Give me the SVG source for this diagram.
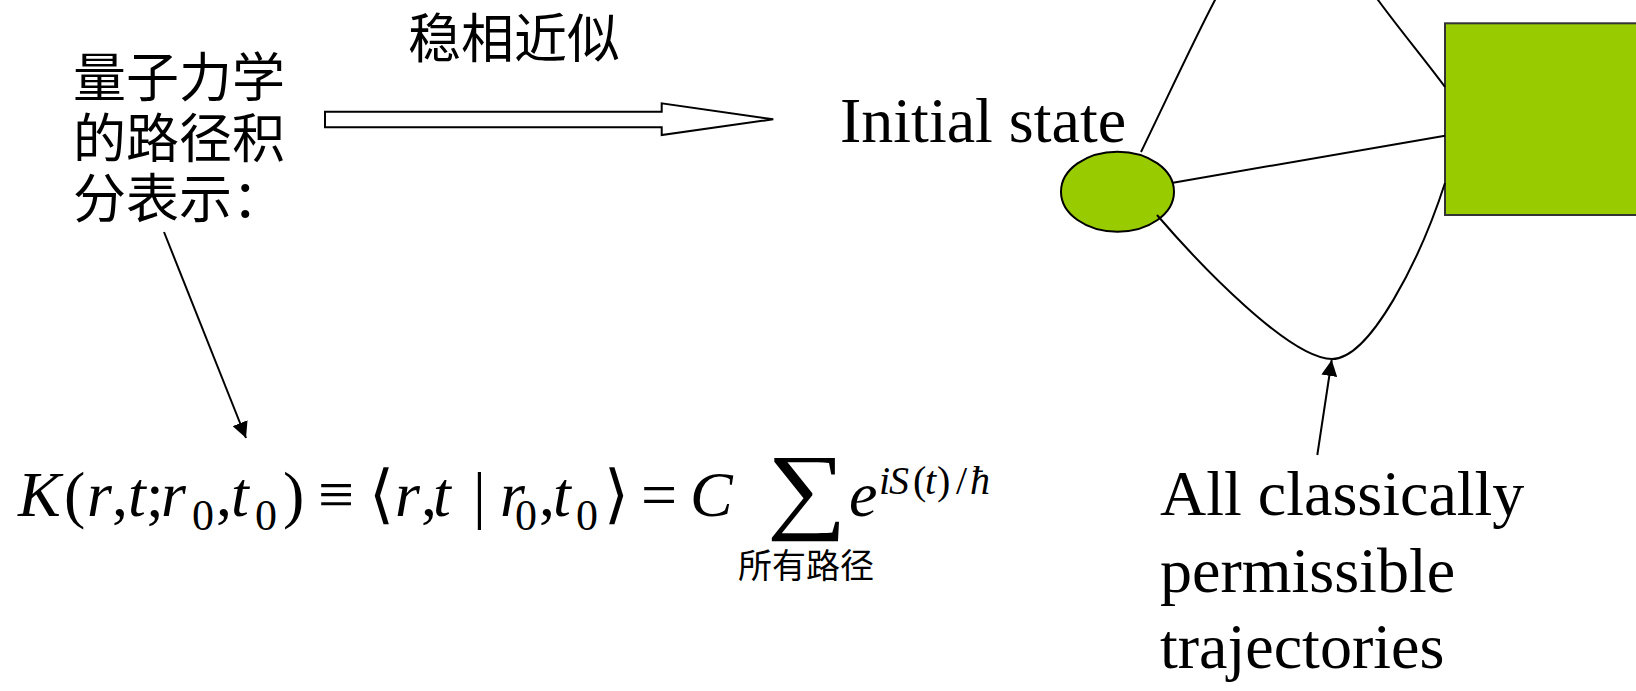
<svg xmlns="http://www.w3.org/2000/svg" width="1636" height="691" viewBox="0 0 1636 691">
<style>
.cjk{font-family:"Noto Sans CJK SC","Noto Sans CJK JP",sans-serif;fill:#000}
.lat{font-family:"Liberation Serif","DejaVu Serif",serif;fill:#000}
.it{font-style:italic}
.ln{fill:none;stroke:#000;stroke-width:2}
</style>
<defs>
<marker id="ah" markerUnits="userSpaceOnUse" markerWidth="18" markerHeight="16" refX="16" refY="8" orient="auto">
<path d="M0,0 L16,8 L0,16 Z" fill="#000"/>
</marker>
</defs>
<rect width="1636" height="691" fill="#fff"/>

<g id="label-quantum">
<text class="cjk" font-size="53" x="73" y="97">量子力学</text>
<text class="cjk" font-size="53" x="73" y="157.5">的路径积</text>
<text class="cjk" font-size="53" x="73" y="218">分表示：</text>
</g>

<g id="label-stationary">
<text class="cjk" font-size="53" x="408" y="58">稳相近似</text>
</g>

<g id="block-arrow">
<polygon points="325,111.7 661.7,111.7 661.7,103.3 773.3,119.3 661.7,135 661.7,127.3 325,127.3" fill="#fff" stroke="#000" stroke-width="2" stroke-linejoin="miter"/>
</g>

<g id="formula">
<text class="lat" font-size="64" y="516">
<tspan class="it" x="18">K</tspan><tspan x="64">(</tspan><tspan class="it" x="87">r</tspan><tspan x="112">,</tspan><tspan class="it" x="128">t</tspan><tspan x="146">;</tspan><tspan class="it" x="161">r</tspan><tspan x="192" y="530" font-size="44">0</tspan><tspan x="216" y="516">,</tspan><tspan class="it" x="231">t</tspan><tspan x="255" y="530" font-size="44">0</tspan><tspan x="283" y="516">)</tspan><tspan x="318">≡</tspan><tspan x="369">⟨</tspan><tspan class="it" x="395">r</tspan><tspan x="421">,</tspan><tspan class="it" x="433">t</tspan><tspan x="473">|</tspan><tspan class="it" x="500">r</tspan><tspan x="515" y="530" font-size="44">0</tspan><tspan x="539" y="516">,</tspan><tspan class="it" x="553">t</tspan><tspan x="576" y="530" font-size="44">0</tspan><tspan x="604" y="516">⟩</tspan><tspan x="641">=</tspan><tspan class="it" x="690">C</tspan><tspan class="it" x="849">e</tspan>
</text>
<text class="lat" font-size="96" transform="translate(767,521) scale(1.17,1)" x="0" y="0">∑</text>
<text class="lat" font-size="40" y="494"><tspan class="it" x="879">i</tspan><tspan class="it" x="889">S</tspan><tspan x="913">(</tspan><tspan class="it" x="925">t</tspan><tspan x="937">)</tspan><tspan x="956">/</tspan><tspan class="it" x="970">ħ</tspan></text>
<text class="cjk" font-size="34" x="738" y="578">所有路径</text>
</g>

<g id="initial-state-label">
<text class="lat" font-size="64" x="840" y="142">Initial state</text>
</g>

<g id="initial-state">
<ellipse cx="1117.5" cy="191.7" rx="56.5" ry="40" fill="#99CC00" stroke="#000" stroke-width="2"/>
</g>

<g id="final-state">
<rect x="1445" y="23.3" width="200" height="191.7" fill="#99CC00" stroke="#333" stroke-width="2"/>
</g>

<g id="trajectories-label">
<text class="lat" font-size="64" x="1160" y="515">All classically</text>
<text class="lat" font-size="64" x="1160" y="592">permissible</text>
<text class="lat" font-size="64" x="1160" y="668">trajectories</text>
</g>

<g id="connectors">
<path class="ln" d="M1141,152 C1170,92 1195,38 1215,0 C1245,-60 1275,-95 1300,-95 C1330,-95 1355,-30 1378,0 C1400,30 1425,60 1445,87"/>
<path class="ln" d="M1173,182.7 L1445,135.7"/>
<path class="ln" d="M1157,215 C1200,265 1290,359 1332,359 C1370,359 1420,260 1445,183"/>
<line class="ln" x1="1317.3" y1="455" x2="1331.7" y2="360" marker-end="url(#ah)"/>
<line class="ln" x1="164" y1="232" x2="246" y2="438" marker-end="url(#ah)"/>
</g>
</svg>
